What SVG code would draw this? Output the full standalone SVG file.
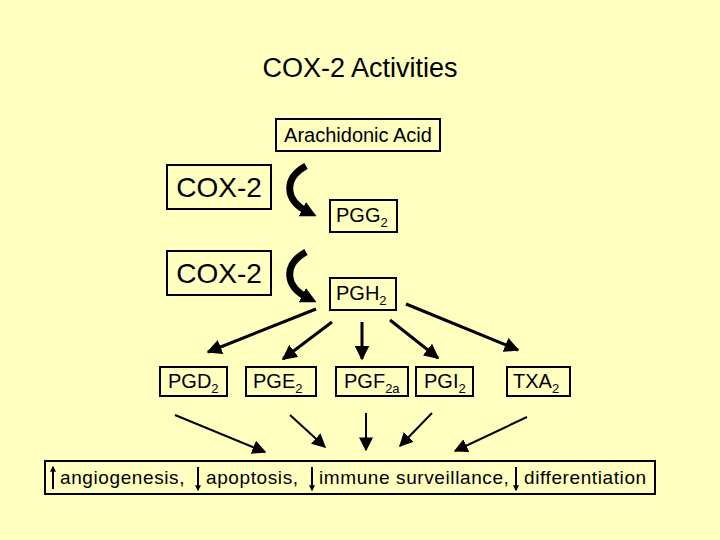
<svg xmlns="http://www.w3.org/2000/svg" width="720" height="540" viewBox="0 0 720 540">
<style>
text{font-family:"Liberation Sans",Arial,sans-serif;fill:#000}
.b{fill:none;stroke:#000;stroke-width:2}
.c{stroke:#000;stroke-width:3;fill:none}
.t{stroke:#000;stroke-width:2;fill:none}
.s{font-size:20px}
.o{font-size:19px;letter-spacing:0.6px}
.m{font-size:28px}
</style>
<defs>
<marker id="a" viewBox="0 0 10 10" refX="9" refY="5" markerWidth="5" markerHeight="5" orient="auto"><path d="M0,0L10,5L0,10z"/></marker>
<marker id="a2" viewBox="0 0 10 10" refX="9" refY="5" markerWidth="7" markerHeight="7" orient="auto"><path d="M0,0L10,5L0,10z"/></marker>
<marker id="h" viewBox="0 0 10 10" refX="4" refY="5" markerUnits="userSpaceOnUse" markerWidth="16" markerHeight="16" orient="auto"><path d="M0,0L10,5L0,10z"/></marker>
<marker id="k" viewBox="0 0 10 10" refX="8" refY="5" markerWidth="3" markerHeight="3" orient="auto"><path d="M0,0L10,5L0,10z"/></marker>
</defs>
<rect width="720" height="540" fill="#FFFFC0"/>
<text x="360" y="77" font-size="27" text-anchor="middle">COX-2 Activities</text>
<g id="aa"><rect class="b" x="276" y="119" width="164" height="32"/><text class="s" x="358" y="142" text-anchor="middle">Arachidonic Acid</text></g>
<g id="cox1"><rect class="b" x="167" y="165" width="104" height="44"/><text class="m" x="219" y="197" text-anchor="middle">COX-2</text></g>
<g id="cox2"><rect class="b" x="167" y="251" width="104" height="44"/><text class="m" x="219" y="283" text-anchor="middle">COX-2</text></g>
<g id="pgg"><rect class="b" x="330" y="200" width="67" height="32"/><text class="s" x="336" y="222">PGG<tspan font-size="13" dy="5">2</tspan></text></g>
<g id="pgh"><rect class="b" x="330" y="278" width="66" height="32"/><text class="s" x="336" y="300">PGH<tspan font-size="13" dy="5">2</tspan></text></g>
<g id="pgd"><rect class="b" x="160" y="367" width="67" height="29"/><text class="s" x="168" y="388">PGD<tspan font-size="13" dy="5">2</tspan></text></g>
<g id="pge"><rect class="b" x="246" y="367" width="70" height="29"/><text class="s" x="253" y="388">PGE<tspan font-size="13" dy="5">2</tspan></text></g>
<g id="pgf"><rect class="b" x="336" y="367" width="72" height="29"/><text class="s" x="344" y="388">PGF<tspan font-size="13" dy="5">2a</tspan></text></g>
<g id="pgi"><rect class="b" x="416" y="367" width="57" height="29"/><text class="s" x="424" y="388">PGI<tspan font-size="13" dy="5">2</tspan></text></g>
<g id="txa"><rect class="b" x="507" y="367" width="63" height="29"/><text class="s" x="513" y="388">TXA<tspan font-size="13" dy="5">2</tspan></text></g>
<g id="out"><rect class="b" x="45" y="461" width="610" height="33"/>
<text class="o" x="60" y="484">angiogenesis,</text>
<text class="o" x="206" y="484">apoptosis,</text>
<text class="o" x="319" y="484">immune surveillance,</text>
<text class="o" x="524" y="484">differentiation</text>
<line class="t" x1="53" y1="489" x2="53" y2="467" marker-end="url(#k)"/>
<line class="t" x1="198" y1="467" x2="198" y2="490" marker-end="url(#k)"/>
<line class="t" x1="312" y1="467" x2="312" y2="490" marker-end="url(#k)"/>
<line class="t" x1="516" y1="467" x2="516" y2="490" marker-end="url(#k)"/>
</g>
<g id="connectors">
<path d="M306,166 C284,178 284,200 308,212" stroke="#000" stroke-width="7" fill="none" marker-end="url(#h)"/>
<path d="M306,252 C284,264 284,286 308,298" stroke="#000" stroke-width="7" fill="none" marker-end="url(#h)"/>
<line class="c" x1="316" y1="309" x2="208" y2="352" marker-end="url(#a)"/>
<line class="c" x1="332" y1="322" x2="283" y2="359" marker-end="url(#a)"/>
<line class="c" x1="362" y1="322" x2="362" y2="359" marker-end="url(#a)"/>
<line class="c" x1="390" y1="320" x2="438" y2="358" marker-end="url(#a)"/>
<line class="c" x1="406" y1="304" x2="518" y2="350" marker-end="url(#a)"/>
<line class="t" x1="175" y1="415" x2="265" y2="452" marker-end="url(#a2)"/>
<line class="t" x1="290" y1="415" x2="325" y2="447" marker-end="url(#a2)"/>
<line class="t" x1="366" y1="413" x2="366" y2="450" marker-end="url(#a2)"/>
<line class="t" x1="432" y1="413" x2="400" y2="446" marker-end="url(#a2)"/>
<line class="t" x1="527" y1="417" x2="455" y2="451" marker-end="url(#a2)"/>
</g>
</svg>
